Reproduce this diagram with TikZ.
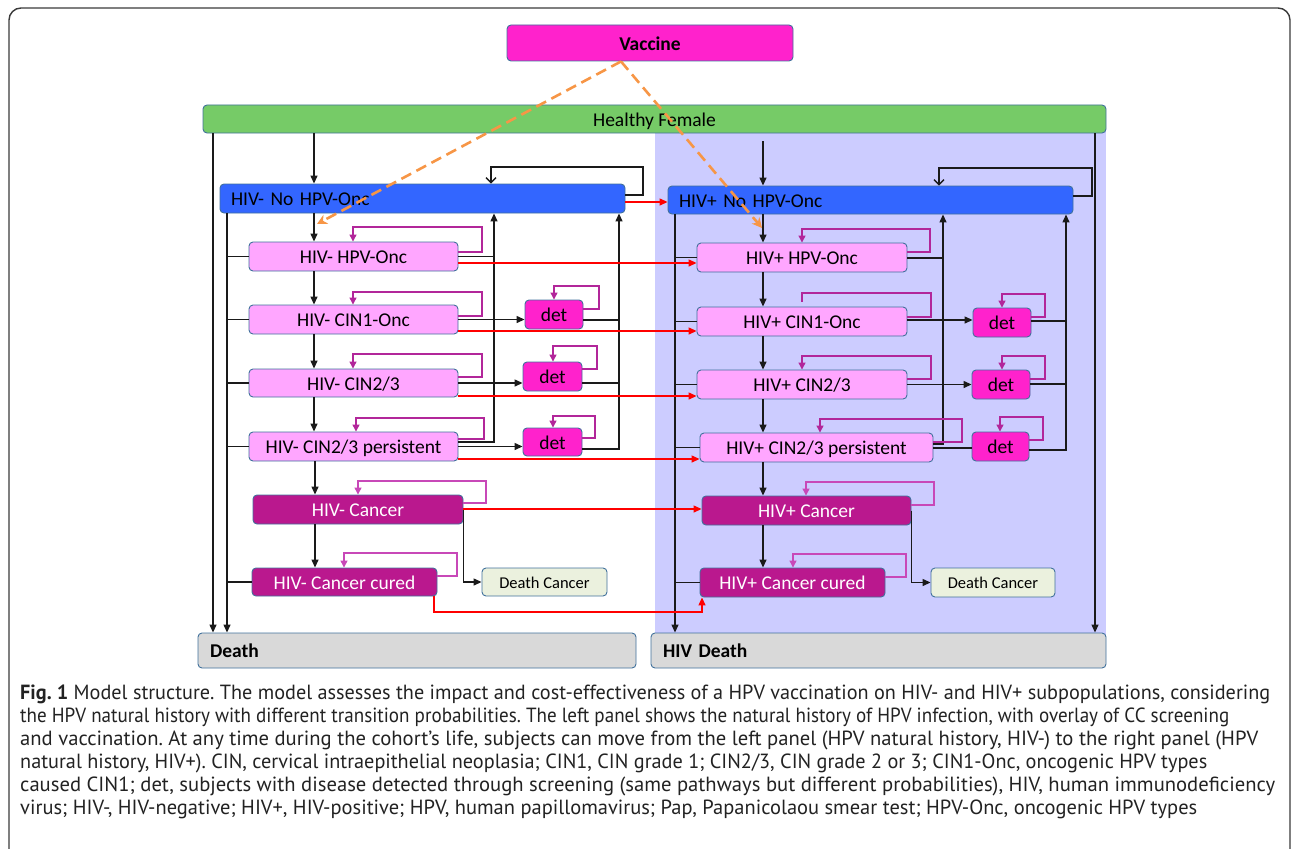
\documentclass[tikz,border=0pt]{standalone}
\usepackage{fontspec}
\usepackage{graphicx}
\setmainfont{Carlito}
\newfontfamily\capfont{PT Sans}
\usetikzlibrary{arrows.meta}
\definecolor{bcol}{HTML}{41719C}
\definecolor{vacc}{HTML}{FF22CC}
\definecolor{hfg}{HTML}{76CB67}
\definecolor{lav}{HTML}{CCCCFF}
\definecolor{blu}{HTML}{3366FF}
\definecolor{lpink}{HTML}{FFA6FF}
\definecolor{canc}{HTML}{BA188E}
\definecolor{dcan}{HTML}{EBF1DE}
\definecolor{dgray}{HTML}{D9D9D9}
\definecolor{loopc}{HTML}{B2269A}
\definecolor{loopl}{HTML}{C848B8}
\definecolor{orng}{HTML}{F79646}
\definecolor{framec}{HTML}{3A3A3A}
\definecolor{lnc}{HTML}{1A1A1A}
\definecolor{capc}{HTML}{222222}
\newcommand\capfit[2]{\resizebox{#1}{\height}{#2}}
\frenchspacing
\begin{document}
\begin{tikzpicture}[x=1pt,y=-1pt,
 boxst/.style={draw=bcol, line width=0.9pt, rounded corners=4pt, inner sep=0pt, text height=14.4pt, text depth=0pt, font=\fontsize{19.5}{23}\selectfont},
 arr/.style={draw=lnc, line width=1.3pt, -{Triangle[length=8pt,width=7pt]}},
 ln/.style={draw=lnc, line width=1.3pt},
 loopa/.style={draw=loopc, line width=1.2pt, -{Triangle[length=7pt,width=7pt]}},
 loopb/.style={draw=loopl, line width=1.2pt, -{Triangle[length=7pt,width=7pt]}},
 loopn/.style={draw=loopc, line width=1.2pt},
 redarr/.style={draw=red, line width=1.3pt, -{Triangle[length=8pt,width=7pt]}},
 vacarr/.style={draw=orng, line width=2.6pt, dash pattern=on 11pt off 6pt, -{Stealth[length=10pt,width=10pt]}},
 selfv/.style={draw=lnc, line width=1.3pt, -{Straight Barb[length=5pt,width=10pt]}},
 capline/.style={anchor=base west, inner sep=0pt, text=capc, font=\capfont\fontsize{20.5}{23}\selectfont}
]
\useasboundingbox (0,0) rectangle (1292,848);
% frame
\draw[framec, line width=1.4pt, rounded corners=12pt] (9,870) -- (9,8) -- (1290,8) -- (1290,870);
% HIV+ panel background
\fill[lav] (655,110) rectangle (1106,640);

% top nodes
\node[boxst, fill=vacc, minimum width=286pt, minimum height=36pt, font=\fontsize{19.5}{23}\selectfont\bfseries] (vac) at (650,43) {Vaccine};
\node[boxst, fill=hfg, minimum width=903pt, minimum height=28pt] (hf) at (654.5,119) {Healthy Female};

% left panel
\node[boxst, fill=blu, minimum width=405pt, minimum height=29pt, text width=383pt, align=left] (nohpvL) at (422.5,198.5) {HIV- No HPV-Onc};
\node[boxst, fill=lpink, minimum width=209pt, minimum height=29pt] (hpvL) at (353.5,256.5) {HIV- HPV-Onc};
\node[boxst, fill=lpink, minimum width=209pt, minimum height=29pt] (cin1L) at (353.5,319.5) {HIV- CIN1-Onc};
\node[boxst, fill=lpink, minimum width=209pt, minimum height=28pt] (cin23L) at (353.5,383) {HIV- CIN2/3};
\node[boxst, fill=lpink, minimum width=209pt, minimum height=29pt] (persL) at (353.5,446.5) {HIV- CIN2/3 persistent};
\node[boxst, fill=vacc, minimum width=58pt, minimum height=29pt] (det1L) at (554,314.5) {det};
\node[boxst, fill=vacc, minimum width=59pt, minimum height=29pt] (det2L) at (552.5,376.5) {det};
\node[boxst, fill=vacc, minimum width=59pt, minimum height=28pt] (det3L) at (552.5,442) {det};
\node[boxst, fill=canc, text=white, minimum width=210pt, minimum height=29pt] (cancL) at (358,509.5) {HIV- Cancer};
\node[boxst, fill=canc, text=white, minimum width=185pt, minimum height=28pt] (curedL) at (344.5,582) {HIV- Cancer cured};
\node[boxst, fill=dcan, minimum width=125pt, minimum height=28pt, text height=12.2pt, font=\fontsize{16.5}{20}\selectfont] (dcL) at (544.5,582) {Death Cancer};
\node[boxst, fill=dgray, minimum width=438pt, minimum height=35pt, text width=414pt, align=left, font=\fontsize{19.5}{23}\selectfont\bfseries] (death) at (417,650.5) {Death};

% right panel
\node[boxst, fill=blu, minimum width=405pt, minimum height=28pt, text width=383pt, align=left] (nohpvR) at (870.5,200) {HIV+ No HPV-Onc};
\node[boxst, fill=lpink, minimum width=210pt, minimum height=29pt] (hpvR) at (802,257.5) {HIV+ HPV-Onc};
\node[boxst, fill=lpink, minimum width=210pt, minimum height=29pt] (cin1R) at (802,321.5) {HIV+ CIN1-Onc};
\node[boxst, fill=lpink, minimum width=210pt, minimum height=29pt] (cin23R) at (802,384.5) {HIV+ CIN2/3};
\node[boxst, fill=lpink, minimum width=233pt, minimum height=29pt] (persR) at (816.5,447.5) {HIV+ CIN2/3 persistent};
\node[boxst, fill=vacc, minimum width=58pt, minimum height=29pt] (det1R) at (1002,322.5) {det};
\node[boxst, fill=vacc, minimum width=58pt, minimum height=29pt] (det2R) at (1001,384.5) {det};
\node[boxst, fill=vacc, minimum width=57pt, minimum height=29pt] (det3R) at (1000.5,446.5) {det};
\node[boxst, fill=canc, text=white, minimum width=209pt, minimum height=29pt] (cancR) at (806.5,510.5) {HIV+ Cancer};
\node[boxst, fill=canc, text=white, minimum width=185pt, minimum height=29pt] (curedR) at (792.5,582.5) {HIV+ Cancer cured};
\node[boxst, fill=dcan, minimum width=124pt, minimum height=29pt, text height=12.2pt, font=\fontsize{16.5}{20}\selectfont] (dcR) at (993,582.5) {Death Cancer};
\node[boxst, fill=dgray, minimum width=455pt, minimum height=35pt, text width=431pt, align=left, font=\fontsize{19.5}{23}\selectfont\bfseries] (hivdeath) at (878.5,650.5) {HIV Death};

% ---------- left connectors
\draw[arr] (213,0 |- hf.south) -- (213,0 |- death.north);
\draw[arr] (314,0 |- hf.south) -- (314,0 |- nohpvL.north);
\draw[arr] (227,0 |- nohpvL.south) -- (227,0 |- death.north);
\foreach \n in {hpvL,cin1L,cin23L,persL,curedL} \draw[ln] (227,0 |- \n.west) -- (\n.west);
\draw[arr] (314,0 |- nohpvL.south) -- (314,0 |- hpvL.north);
\draw[arr] (314,0 |- hpvL.south) -- (314,0 |- cin1L.north);
\draw[arr] (314,0 |- cin1L.south) -- (314,0 |- cin23L.north);
\draw[arr] (314,0 |- cin23L.south) -- (314,0 |- persL.north);
\draw[arr] (315,0 |- persL.south) -- (315,0 |- cancL.north);
\draw[arr] (315,0 |- cancL.south) -- (315,0 |- curedL.north);
\draw[ln] (hpvL.east) -- (494,0 |- hpvL.east);
\draw[arr] (persL.east |- 0,442) -| (494,0 |- nohpvL.south);
\draw[arr] (cin1L.east) -- (cin1L.east -| det1L.west);
\draw[arr] (cin23L.east) -- (cin23L.east -| det2L.west);
\draw[arr] (persL.east) -- (persL.east -| det3L.west);
\draw[ln] (det1L.east |- 0,320) -- (619,320);
\draw[ln] (det2L.east |- 0,383) -- (619,383);
\draw[arr] (det3L.east |- 0,449) -| (619,0 |- nohpvL.south);
\draw[arr] (cancL.east) -- (cancL.east |- dcL.west) -- (dcL.west);

% ---------- right connectors
\draw[arr] (763,141) -- (763,0 |- nohpvR.north);
\draw[arr] (1095,0 |- hf.south) -- (1095,0 |- hivdeath.north);
\draw[arr] (675,0 |- nohpvR.south) -- (675,0 |- hivdeath.north);
\foreach \n in {hpvR,cin1R,cin23R,persR,curedR} \draw[ln] (675,0 |- \n.west) -- (\n.west);
\draw[arr] (763,0 |- nohpvR.south) -- (763,0 |- hpvR.north);
\draw[arr] (763,0 |- hpvR.south) -- (763,0 |- cin1R.north);
\draw[arr] (763,0 |- cin1R.south) -- (763,0 |- cin23R.north);
\draw[arr] (763,0 |- cin23R.south) -- (763,0 |- persR.north);
\draw[arr] (763,0 |- persR.south) -- (763,0 |- cancR.north);
\draw[arr] (763,0 |- cancR.south) -- (763,0 |- curedR.north);
\draw[ln] (hpvR.east |- 0,258) -- (943,258);
\draw[arr] (persR.east |- 0,444) -| (943,0 |- nohpvR.south);
\draw[arr] (cin1R.east |- 0,320) -- (det1R.west |- 0,320);
\draw[arr] (cin23R.east) -- (cin23R.east -| det2R.west);
\draw[ln] (persR.east |- 0,448) -- (det3R.west |- 0,448);
\draw[ln] (det1R.east |- 0,321) -- (1066,321);
\draw[ln] (det2R.east |- 0,384) -- (1066,384);
\draw[arr] (det3R.east |- 0,450) -| (1066,0 |- nohpvR.south);
\draw[arr] (cancR.east) -- (cancR.east |- dcR.west) -- (dcR.west);

% ---------- red transitions HIV- -> HIV+
\draw[redarr] (nohpvL.east |- 0,202) -- (nohpvR.west |- 0,202);
\draw[redarr] (hpvL.east |- 0,263) -- (hpvR.west |- 0,263);
\draw[redarr] (cin1L.east |- 0,331) -- (cin1R.west |- 0,331);
\draw[redarr] (cin23L.east |- 0,396) -- (cin23R.west |- 0,396);
\draw[redarr] (persL.east |- 0,459) -- (persR.west |- 0,459);
\draw[redarr] (cancL.east |- 0,509) -- (cancR.west |- 0,509);
\draw[redarr] (434,0 |- curedL.south) -- (434,612) -| (702,0 |- curedR.south);

% ---------- self loops
\draw[selfv] (nohpvL.east |- 0,195) -- (643,195) -- (643,167) -- (491,167) -- (491,0 |- nohpvL.north);
\draw[selfv] (nohpvR.east |- 0,196) -- (1092,196) -- (1092,168) -- (939,168) -- (939,0 |- nohpvR.north);
\foreach \n/\ys/\xr/\yt/\xl in {hpvL/252/482/227/353, cin1L/316/482/292/353, cin23L/377/482/354/353, persL/439/484/418/356, det1L/309/599/286/554, det2L/369/597/346/553, det3L/438/595/416/553, hpvR/252/930/229/802, cin23R/379/931/356/802, persR/442/962/419/820, det1R/317/1045/294/1002, det2R/379/1045/356/1002, det3R/440/1043/417/1000}
  \draw[loopa] (\n.east |- 0,\ys) -- (\xr,\ys) -- (\xr,\yt) -- (\xl,\yt) -- (\xl,0 |- \n.north);
\foreach \n/\ys/\xr/\yt/\xl in {cancL/503/486/481/358, curedL/576/457/553/344, cancR/505/934/482/806, curedR/577/906/554/793}
  \draw[loopb] (\n.east |- 0,\ys) -- (\xr,\ys) -- (\xr,\yt) -- (\xl,\yt) -- (\xl,0 |- \n.north);
\draw[loopn] (cin1R.east |- 0,317) -- (931,317) -- (931,293) -- (802,293) -- (802,302);

% ---------- vaccination
\coordinate (vtipL) at (317,224);
\coordinate (vtipR) at (762,228);
\draw[vacarr] (621,0 |- vac.south) -- (vtipL);
\draw[vacarr] (621,0 |- vac.south) -- (vtipR);

% ---------- caption
\node[capline] (c1) at (20,699) {\capfit{1250pt}{\textbf{Fig. 1} Model structure. The model assesses the impact and cost-effectiveness of a HPV vaccination on HIV- and HIV+ subpopulations, considering}};
\node[capline] (c2) at (20,722) {\capfit{1209pt}{the HPV natural history with different transition probabilities. The left panel shows the natural history of HPV infection, with overlay of CC screening}};
\node[capline] (c3) at (20,745) {\capfit{1238pt}{and vaccination. At any time during the cohort’s life, subjects can move from the left panel (HPV natural history, HIV-) to the right panel (HPV}};
\node[capline] (c4) at (20,768) {\capfit{1187pt}{natural history, HIV+). CIN, cervical intraepithelial neoplasia; CIN1, CIN grade 1; CIN2/3, CIN grade 2 or 3; CIN1-Onc, oncogenic HPV types}};
\node[capline] (c5) at (20,791) {\capfit{1255pt}{caused CIN1; det, subjects with disease detected through screening (same pathways but different probabilities), HIV, human immunodeficiency}};
\node[capline] (c6) at (20,814) {\capfit{1177pt}{virus; HIV-, HIV-negative; HIV+, HIV-positive; HPV, human papillomavirus; Pap, Papanicolaou smear test; HPV-Onc, oncogenic HPV types}};
\end{tikzpicture}
\end{document}
